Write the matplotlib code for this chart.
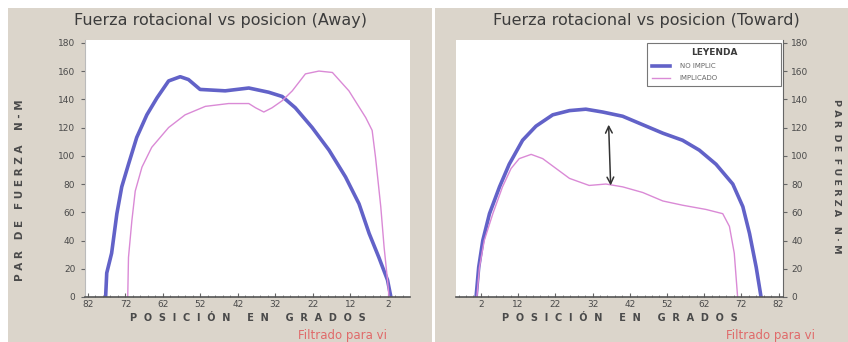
import numpy as np
import matplotlib.pyplot as plt
from matplotlib.patches import Rectangle
from matplotlib.ticker import MultipleLocator

# Away: position in degrees (axis runs 82 -> 2) and torque N-M
away_noimp_deg = [77.3, 77.0, 75.7, 74.3, 73.0, 71.2, 69.0, 66.3, 63.6, 60.5, 57.4, 55.2, 52.1,
                  45.4, 39.1, 33.8, 30.2, 26.7, 22.2, 17.7, 13.3, 9.7, 7.0, 4.4, 2.1, 1.2]
away_noimp_val = [0, 17, 31, 59, 78, 94, 113, 129, 141, 153, 156, 154, 147,
                  146, 148, 145, 142, 134, 120, 104, 85, 66, 45, 28, 12, 0]
away_imp_deg = [71.4, 71.2, 70.3, 69.4, 67.6, 65.0, 60.5, 56.1, 50.7, 44.5, 39.1, 37.3, 35.1, 32.9,
                30.2, 27.5, 24.0, 20.4, 16.8, 12.4, 7.9, 6.2, 5.3, 3.9, 3.0, 2.1, 1.7]
away_imp_val = [0, 28, 54, 75, 92, 106, 120, 129, 135, 137, 137, 134, 131, 134,
                139, 146, 158, 160, 159, 146, 127, 118, 99, 64, 35, 12, 0]

# Toward: position in degrees (axis runs 2 -> 82)
tow_noimp_deg = [0.7, 1.4, 2.5, 4.3, 7.0, 9.6, 13.2, 16.8, 21.3, 25.8, 30.2, 34.7, 40.1, 45.5,
                 50.9, 56.2, 60.7, 65.2, 69.7, 72.4, 74.2, 76.0, 77.3]
tow_noimp_val = [0, 21, 40, 59, 78, 94, 111, 121, 129, 132, 133, 131, 128, 122,
                 116, 111, 104, 94, 80, 64, 45, 21, 0]
tow_imp_deg = [0.9, 1.6, 2.9, 5.2, 7.8, 10.1, 12.3, 15.5, 18.6, 22.2, 25.8, 31.1, 35.6, 40.1,
               45.5, 50.9, 56.2, 62.5, 67.0, 68.8, 70.1, 71.0]
tow_imp_val = [0, 21, 40, 59, 78, 91, 98, 101, 98, 91, 84, 79, 80, 78,
               74, 68, 65, 62, 59, 50, 31, 0]

away_ticks = [82, 72, 62, 52, 42, 32, 22, 12, 2]
tow_ticks = [2, 12, 22, 32, 42, 52, 62, 72, 82]
y_ticks = [0, 20, 40, 60, 80, 100, 120, 140, 160, 180]

blue = "#6262c8"
pink = "#da8ad6"
beige = "#dbd5cb"
txt = "#4a4a4a"

W, H = 848, 342
fig = plt.figure(figsize=(W / 100, H / 100), dpi=100)
fig.patch.set_facecolor("white")
fig.add_artist(Rectangle((8 / W, 0), 424 / W, 334 / H, transform=fig.transFigure,
                         facecolor=beige, edgecolor="none", zorder=-5))
fig.add_artist(Rectangle((435 / W, 0), 413 / W, 334 / H, transform=fig.transFigure,
                         facecolor=beige, edgecolor="none", zorder=-5))

ax1 = fig.add_axes([85 / W, 1 - 297 / H, 325 / W, 257 / H])
ax2 = fig.add_axes([456 / W, 1 - 297 / H, 327 / W, 257 / H])

ax1.plot(away_noimp_deg, away_noimp_val, color=blue, lw=2.6, solid_joinstyle="round")
ax1.plot(away_imp_deg, away_imp_val, color=pink, lw=1.0)
l1, = ax2.plot(tow_noimp_deg, tow_noimp_val, color=blue, lw=2.6, label="NO IMPLIC")
l2, = ax2.plot(tow_imp_deg, tow_imp_val, color=pink, lw=1.0, label="IMPLICADO")

ax1.set_xlim(82.8, -3.9)
ax2.set_xlim(-4.7, 83.2)
for ax in (ax1, ax2):
    ax.set_ylim(0, 182)
    ax.set_yticks(y_ticks)
    ax.set_facecolor("white")
    for s in ax.spines.values():
        s.set_visible(False)
    ax.spines["bottom"].set_visible(True)
    ax.spines["bottom"].set_color("#555555")
    ax.spines["bottom"].set_linewidth(1.2)
    ax.xaxis.set_minor_locator(MultipleLocator(2))
    ax.tick_params(axis="x", which="major", length=3, direction="in", colors="#666666",
                   labelsize=6.5, labelcolor=txt, pad=2)
    ax.tick_params(axis="x", which="minor", length=1.5, direction="in", colors="#777777")
    ax.tick_params(axis="y", length=3, direction="out", colors="#666666",
                   labelsize=6.5, labelcolor=txt)
    ax.set_xlabel("P  O  S  I  C  I  Ó  N     E  N     G  R  A  D  O  S",
                  fontsize=7, color=txt, fontweight="bold", labelpad=3)

ax1.set_xticks(away_ticks)
ax2.set_xticks(tow_ticks)
ax1.spines["left"].set_visible(True)
ax1.spines["left"].set_color("#bbbbbb")
ax1.tick_params(axis="y", pad=4)
ax2.spines["right"].set_visible(True)
ax2.spines["right"].set_color("#666666")
ax2.yaxis.tick_right()
ax2.tick_params(axis="y", pad=3)

# hand drawn double arrow between the two curves
ax2.annotate("", xy=(36.3, 124), xytext=(36.9, 77),
             arrowprops=dict(arrowstyle="<->", color="#333333", lw=1.1, mutation_scale=12))

leg = ax2.legend(handles=[l1, l2], title="LEYENDA", loc="upper left",
                 bbox_to_anchor=(0.584, 0.817, 0.41, 0.171), mode="expand",
                 fontsize=5, title_fontsize=6.5, frameon=True, fancybox=False,
                 borderaxespad=0, handlelength=2.6, handletextpad=1.4,
                 labelspacing=0.9, borderpad=0.7)
leg.get_frame().set_edgecolor("#555555")
leg.get_frame().set_linewidth(0.8)
leg.get_title().set_color("#3a3a3a")
leg.get_title().set_fontweight("bold")
for t in leg.get_texts():
    t.set_color("#666666")

fig.text(220 / W, 1 - 20 / H, "Fuerza rotacional vs posicion (Away)", ha="center", va="center",
         fontsize=11.5, color="#3c3c3c")
fig.text(646 / W, 1 - 20 / H, "Fuerza rotacional vs posicion (Toward)", ha="center", va="center",
         fontsize=11.5, color="#3c3c3c")
fig.text(20 / W, 1 - 190 / H, "P A R   D E   F U E R Z A    N - M", rotation=90,
         ha="center", va="center", fontsize=7.5, color=txt, fontweight="bold")
fig.text(837 / W, 1 - 176 / H, "P A R  D E  F U E R Z A   N · M", rotation=-90,
         ha="center", va="center", fontsize=6.8, color=txt, fontweight="bold")
fig.text(298 / W, 1 - 335 / H, "Filtrado para vi", ha="left", va="center",
         fontsize=8.5, color="#e06a6a")
fig.text(726 / W, 1 - 336 / H, "Filtrado para vi", ha="left", va="center",
         fontsize=8.5, color="#e06a6a")

fig.savefig("out.png", dpi=100)
